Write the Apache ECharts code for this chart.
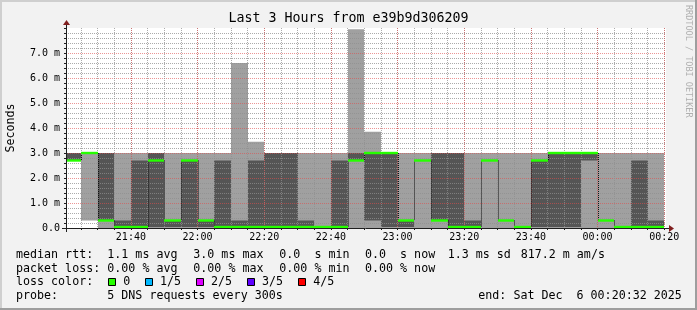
<!DOCTYPE html>
<html><head><meta charset="utf-8">
<script src="https://cdn.jsdelivr.net/npm/echarts@6/dist/echarts.min.js"></script>
<style>html,body{margin:0;padding:0;background:#f2f2f2}#c{width:697px;height:310px}</style>
</head><body><div id="c"></div>
<script>
// ---------- data ----------
const titleText = 'Last 3 Hours from e39b9d306209';
const viewStart = '21:20:32';
const viewEnd = '00:20:32';
const stepMinutes = 5;
// end time of each 5-minute RRD step
const slotEnds = ['21:25','21:30','21:35','21:40','21:45','21:50','21:55','22:00','22:05','22:10','22:15','22:20',
                  '22:25','22:30','22:35','22:40','22:45','22:50','22:55','23:00','23:05','23:10','23:15','23:20',
                  '23:25','23:30','23:35','23:40','23:45','23:50','23:55','00:00','00:05','00:10','00:15','00:20'];
// sorted pings per step (ms): ping1 = fastest ... ping5 = slowest, median = ping3
const ping1  = [2.7,0.3,0.0,0.0,0.0,0.0,0.0,0.0,0.0,0.0,0.0,0.0, 0.0,0.0,0.0,0.0,0.0,0.0,0.0,0.0,0.0,0.0,0.0,0.0, 0.0,0.0,0.0,0.0,0.0,0.0,0.0,0.0,0.0,0.0,0.0,0.0];
const ping2  = [2.7,3.0,0.3,0.04,0.04,0.04,0.04,0.04,0.04,0.04,0.04,0.04, 0.04,0.04,0.04,0.04,0.04,2.7,0.3,0.04,0.04,2.7,0.3,0.04, 0.04,2.7,0.3,0.04,0.04,0.04,0.04,2.7,0.3,0.04,0.04,0.04];
const median = [2.7,3.0,0.3,0.04,0.04,2.7,0.3,2.7,0.3,0.04,0.04,0.04, 0.04,0.04,0.04,0.04,0.04,2.7,3.0,3.0,0.3,2.7,0.3,0.04, 0.04,2.7,0.3,0.04,2.7,3.0,3.0,3.0,0.3,0.04,0.04,0.04];
const ping4  = [3.0,3.0,3.0,0.3,2.7,3.0,0.3,2.7,0.3,2.7,0.3,2.7, 3.0,3.0,0.3,0.04,2.7,3.0,3.0,3.0,0.3,2.7,3.0,3.0, 0.3,2.7,0.3,0.04,2.7,3.0,3.0,3.0,0.3,0.04,2.7,0.3];
const ping5  = [3.0,3.0,3.0,3.0,3.0,3.0,3.0,3.0,3.0,3.0,6.6,3.45, 3.0,3.0,3.0,3.0,3.0,7.95,3.85,3.0,3.0,3.0,3.0,3.0, 3.0,3.0,3.0,3.0,3.0,3.0,3.0,3.0,3.0,3.0,3.0,3.0];
const xTickLabels = ['21:40','22:00','22:20','22:40','23:00','23:20','23:40','00:00','00:20'];
const yTickLabels = ['0.0','1.0 m','2.0 m','3.0 m','4.0 m','5.0 m','6.0 m','7.0 m'];
const yMax = 8;
const yAxisName = 'Seconds';
const rttLabel = 'median rtt:';
const rttStats = ['1.1 ms avg','3.0 ms max','0.0  s min','0.0  s now','1.3 ms sd','817.2 m am/s'];
const lossLabel = 'packet loss:';
const lossStats = ['0.00 % avg','0.00 % max','0.00 % min','0.00 % now'];
const lossColorLabel = 'loss color:';
const lossColorNames = ['0','1/5','2/5','3/5','4/5'];
const lossColors = ['#26ff00','#00b8ff','#dd00ff','#5e00ff','#ff0000'];
const probeLabel = 'probe:';
const probeText = '5 DNS requests every 300s';
const endText = 'end: Sat Dec  6 00:20:32 2025';
const creditText = 'RRDTOOL / TOBI OETIKER';

// ---------- helpers ----------
function toMin(s){ const p=s.split(':').map(Number); let h=p[0]; if(h<12) h+=24; return h*60+p[1]+(p[2]||0)/60; }
const xMin = toMin(viewStart), xMax = toMin(viewEnd);
const xTickMins = xTickLabels.map(toMin);
const labelByMin = {}; xTickLabels.forEach((l,i)=>{ labelByMin[Math.round(xTickMins[i])] = l; });
const stepMins = slotEnds.map(toMin);
const data = slotEnds.map((e,i)=>[Math.max(toMin(e)-stepMinutes,xMin), toMin(e), ping1[i], ping2[i], median[i], ping4[i], ping5[i], i>0?median[i-1]:median[i]]);

const FONT = 'DejaVu Sans Mono';
const GRID = {left:66, top:28, width:600, height:200};
const minorCol = 'rgba(143,143,143,0.75)';
const majorCol = 'rgba(222,79,79,0.6)';

function smokeItem(params, api){
  const x0 = api.value(0), x1 = api.value(1);
  const a = api.coord([x0, api.value(6)]), b = api.coord([x1, api.value(2)]);
  const c = api.coord([x0, api.value(5)]), d = api.coord([x1, api.value(3)]);
  const L = Math.round(a[0]), R = Math.round(b[0]);
  return {type:'group', children:[
    {type:'rect', shape:{x:L, y:a[1], width:R-L, height:b[1]-a[1]}, style:{fill:'#a0a0a0'}},
    {type:'rect', shape:{x:L, y:c[1], width:R-L, height:d[1]-c[1]}, style:{fill:'#555555'}}
  ]};
}
function medianItem(params, api){
  const x0 = api.value(0), x1 = api.value(1);
  const p = api.coord([x0, api.value(4)]), q = api.coord([x1, api.value(4)]);
  const pr = api.coord([x0, api.value(7)]);
  const L = Math.round(p[0]), R = Math.round(q[0]);
  const ch = [{type:'rect', shape:{x:L, y:p[1]-1.2, width:R-L, height:2.4}, style:{fill:'#26ff00'}}];
  if (Math.abs(pr[1]-p[1])>2.5) {
    ch.unshift({type:'line', shape:{x1:L+0.5, y1:Math.min(pr[1],p[1]), x2:L+0.5, y2:Math.max(pr[1],p[1])},
      style:{stroke:'#111', lineWidth:1, lineDash:[1,1]}});
  }
  return {type:'group', children:ch};
}

// ---------- graphics (text & frame) ----------
const g = [];
function txt(x,y,t,o){ g.push(Object.assign({type:'text', x:x, y:y, silent:true, style:Object.assign({text:t, fontFamily:FONT, fontSize:11.67, fill:'#000', textVerticalAlign:'middle'}, o||{})})); }
g.push({type:'rect', shape:{x:0,y:0,width:697,height:2}, style:{fill:'#cfcfcf'}});
g.push({type:'rect', shape:{x:0,y:0,width:2,height:310}, style:{fill:'#cfcfcf'}});
g.push({type:'rect', shape:{x:0,y:308,width:697,height:2}, style:{fill:'#9e9e9e'}});
g.push({type:'rect', shape:{x:695,y:0,width:2,height:310}, style:{fill:'#9e9e9e'}});
txt(348.5, 19, titleText, {fontSize:13.3, textAlign:'center'});
g.push({type:'text', x:11, y:128, rotation:Math.PI/2, silent:true, style:{text:yAxisName, fontFamily:FONT, fontSize:11.67, fill:'#000', textAlign:'center', textVerticalAlign:'middle'}});
g.push({type:'text', x:688.5, y:5, rotation:-Math.PI/2, silent:true, style:{text:creditText, fontFamily:FONT, fontSize:8.5, fill:'#b0b0b0', textAlign:'left', textVerticalAlign:'middle'}});
// axis overhangs and arrows
g.push({type:'line', shape:{x1:62, y1:228.5, x2:669, y2:228.5}, style:{stroke:'#1f1f1f', lineWidth:1}, z:10});
g.push({type:'line', shape:{x1:66.5, y1:232, x2:66.5, y2:25}, style:{stroke:'#1f1f1f', lineWidth:1}, z:10});
g.push({type:'polygon', shape:{points:[[669,225],[674,228.5],[669,232]]}, style:{fill:'#801f1f'}, z:10});
g.push({type:'polygon', shape:{points:[[63,25],[66.5,20],[70,25]]}, style:{fill:'#801f1f'}, z:10});
// legend
const cols = [107.3,193.3,279.3,365,447.7,520.7];
txt(16,255,rttLabel); rttStats.forEach((s,i)=>txt(cols[i],255,s));
txt(16,268.5,lossLabel); lossStats.forEach((s,i)=>txt(cols[i],268.5,s));
txt(16,282,lossColorLabel);
const boxX=[108.5,145.5,196.5,247.5,298.5], lblX=[123.3,160,211,262,313.3];
lossColorNames.forEach((n,i)=>{
  g.push({type:'rect', shape:{x:boxX[i], y:278.5, width:7, height:7}, style:{fill:lossColors[i], stroke:'#000', lineWidth:1}});
  txt(lblX[i],282,n);
});
txt(16,295.7,probeLabel); txt(107.3,295.7,probeText); txt(478.3,295.7,endText);

const chart = echarts.init(document.getElementById('c'), null, {renderer:'canvas'});
chart.setOption({
  backgroundColor:'#f2f2f2',
  animation:false,
  graphic:g,
  grid:Object.assign({backgroundColor:'#ffffff', show:true, borderWidth:0}, GRID),
  xAxis:[{
    type:'value', min:xMin, max:xMax, z:4,
    axisLine:{show:false},
    axisTick:{show:false, customValues:xTickMins},
    axisLabel:{customValues:xTickMins, formatter:v=>labelByMin[Math.round(v)]||'', fontFamily:FONT, fontSize:10, color:'#000', margin:4},
    splitLine:{show:true, lineStyle:{color:majorCol, type:[1,1], width:1}}
  },{
    type:'value', min:xMin, max:xMax, z:3, position:'bottom',
    axisLine:{show:false},
    axisLabel:{show:false, customValues:stepMins},
    axisTick:{show:true, length:2, customValues:stepMins, lineStyle:{color:'#1f1f1f'}},
    splitLine:{show:true, lineStyle:{color:minorCol, type:[1,1], width:1}}
  }],
  yAxis:{
    type:'value', min:0, max:yMax, interval:1, z:3,
    axisLine:{show:false},
    axisTick:{show:true, length:2, lineStyle:{color:'#1f1f1f'}},
    minorTick:{show:true, splitNumber:5, length:2, lineStyle:{color:'#1f1f1f'}},
    axisLabel:{showMaxLabel:false, formatter:v=>yTickLabels[Math.round(v)]||'', fontFamily:FONT, fontSize:10, color:'#000', margin:6},
    splitLine:{show:true, showMinLine:false, showMaxLine:false, lineStyle:{color:majorCol, type:[1,1], width:1}},
    minorSplitLine:{show:true, lineStyle:{color:minorCol, type:[1,1], width:1}}
  },
  series:[
    {type:'custom', name:'smoke', z:1, xAxisIndex:0, renderItem:smokeItem, data:data, encode:{x:[0,1], y:[2,6]}, clip:true, silent:true},
    {type:'custom', name:'median', z:6, xAxisIndex:0, renderItem:medianItem, data:data, encode:{x:[0,1], y:[4]}, clip:true, silent:true}
  ]
});
</script></body></html>
